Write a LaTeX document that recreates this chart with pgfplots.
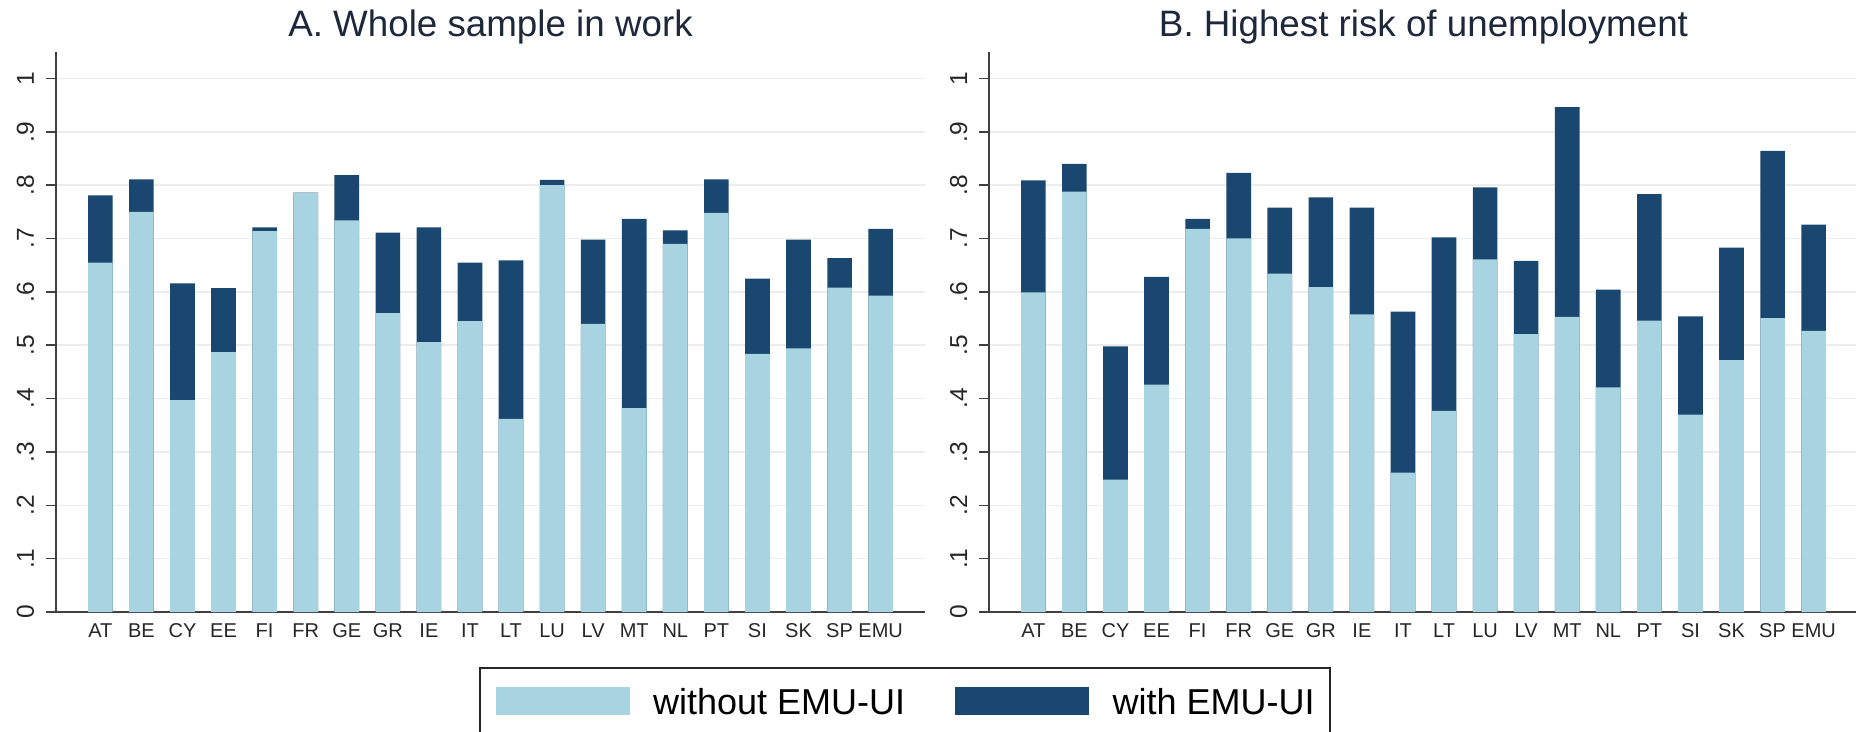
\documentclass[border=0pt]{standalone}
\usepackage{pgfplots}
\pgfplotsset{compat=1.18}
\usepackage{pgfplotstable}
\usepackage{fontspec}
\setmainfont{Liberation Sans}
\definecolor{ltb}{RGB}{168,212,226}
\definecolor{dkb}{RGB}{26,71,111}
\definecolor{ttl}{RGB}{30,40,60}

\pgfplotstableread{
x lbl wo w
0 AT 0.655 0.781
1 BE 0.750 0.811
2 CY 0.397 0.616
3 EE 0.487 0.607
4 FI 0.714 0.721
5 FR 0.785 0.786
6 GE 0.734 0.819
7 GR 0.560 0.711
8 IE 0.506 0.721
9 IT 0.545 0.655
10 LT 0.362 0.659
11 LU 0.800 0.810
12 LV 0.540 0.698
13 MT 0.382 0.737
14 NL 0.690 0.715
15 PT 0.748 0.811
16 SI 0.484 0.625
17 SK 0.494 0.698
18 SP 0.608 0.663
19 EMU 0.593 0.718
}\dataA

\pgfplotstableread{
x lbl wo w
0 AT 0.599 0.809
1 BE 0.788 0.840
2 CY 0.248 0.498
3 EE 0.426 0.628
4 FI 0.718 0.737
5 FR 0.700 0.823
6 GE 0.634 0.758
7 GR 0.609 0.777
8 IE 0.558 0.758
9 IT 0.261 0.563
10 LT 0.377 0.702
11 LU 0.661 0.796
12 LV 0.521 0.658
13 MT 0.553 0.946
14 NL 0.421 0.604
15 PT 0.546 0.783
16 SI 0.370 0.554
17 SK 0.472 0.683
18 SP 0.551 0.864
19 EMU 0.527 0.726
}\dataB

\pgfplotsset{
  panel/.style={
    scale only axis, width=347.6pt, height=224.1pt,
    xmin=-1.08, xmax=20.08, ymin=0, ymax=1.05,
    axis x line*=bottom, axis y line*=left,
    axis line style={black!75, line width=0.6pt},
    xtick={0,...,19},
    xticklabels={AT,BE,CY,EE,FI,FR,GE,GR,IE,IT,LT,LU,LV,MT,NL,PT,SI,SK,SP,EMU},
    ytick={0,0.1,0.2,0.3,0.4,0.5,0.6,0.7,0.8,0.9,1},
    yticklabels={0,.1,.2,.3,.4,.5,.6,.7,.8,.9,1},
    ymajorgrids, grid style={black!7, line width=0.6pt},
    tick align=outside, major tick length=4pt,
    x tick style={draw=none},
    y tick style={black!75, line width=0.6pt},
    tick label style={text=black!85},
    xticklabel style={font=\fontsize{8}{9.6}\selectfont, anchor=base, yshift=-6pt},
    yticklabel style={font=\fontsize{9.8}{11}\selectfont, rotate=90, anchor=base, yshift=4.8pt},
    ybar, bar width=0.6,
    title style={font=\fontsize{14.7}{17}\selectfont\color{ttl}, at={(0.5,1)}, anchor=base, yshift=0pt},
  }
}

\begin{document}
\begin{tikzpicture}
\useasboundingbox (0,0) rectangle (742.4pt,292.4pt);
\begin{axis}[panel, at={(22.4pt,47.6pt)}, anchor=south west,
  title={A. Whole sample in work},
  legend columns=2,
  legend style={at={(0.4872,-0.0982)}, anchor=north west, draw=black!85, line width=0.6pt,
    font=\fontsize{14.4}{17}\selectfont, inner xsep=6.2pt, inner ysep=7.8pt,
    nodes={inner sep=0pt, anchor=base west},
    /tikz/every odd column/.append style={column sep=9.4pt},
    /tikz/every even column/.append style={column sep=20pt}},
  ]
\addplot[fill=dkb, draw=none, bar shift=0pt, forget plot] table[x=x, y=w] {\dataA};
\addplot[fill=ltb, draw=none, bar shift=0pt, forget plot] table[x=x, y=wo] {\dataA};
\addlegendimage{legend image code/.code={\fill[ltb] (0pt,0pt) rectangle (53pt,10.4pt);}}
\addlegendentry{without EMU-UI}
\addlegendimage{legend image code/.code={\fill[dkb] (0pt,0pt) rectangle (53pt,10.4pt);}}
\addlegendentry{with EMU-UI}
\end{axis}
\begin{axis}[panel, at={(395.6pt,47.6pt)}, anchor=south west,
  title={B. Highest risk of unemployment}]
\addplot[fill=dkb, draw=none, bar shift=0pt] table[x=x, y=w] {\dataB};
\addplot[fill=ltb, draw=none, bar shift=0pt] table[x=x, y=wo] {\dataB};
\end{axis}
\end{tikzpicture}
\end{document}
